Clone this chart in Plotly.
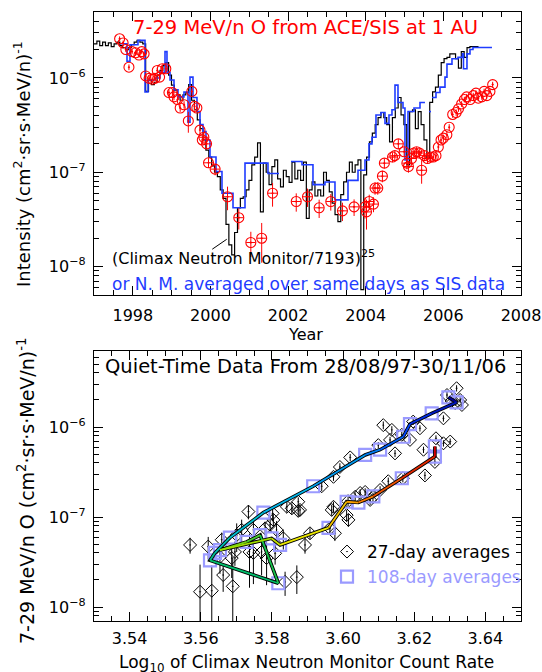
import numpy as np
import plotly.graph_objects as go
from plotly.colors import sample_colorscale

# ---------------- top panel data ----------------
# Climax NM scaled as (NM/7193)^25, 27-day (Bartels) averages starting 1997.0
nm_start_year = 1997.0
nm_step_days = 27
nm_scaled = [
    2.3e-6, 2.45e-6, 2.2e-6, 2.4e-6, 2.2e-6, 2.35e-6, 2.15e-6, 2.3e-6, 2.4e-6,
    2.2e-6, 2.1e-6, 2.0e-6, 2.1e-6,
    2.25e-6, 2.4e-6, 2.5e-6, 2.4e-6, 2.3e-6,
    7.2e-7, 9.5e-7, 8.5e-7, 9.0e-7, 1.07e-6, 1.2e-6, 1.35e-6, 1.45e-6, 1.07e-6,
    8.4e-7, 7.4e-7, 6.6e-7, 5.8e-7, 6.6e-7, 7.0e-7, 8.5e-7, 5.8e-7, 4.6e-7, 3.6e-7,
    2.9e-7, 2.2e-7, 1.72e-7, 1.45e-7, 1.17e-7, 1.0e-7, 9.0e-8, 6.5e-8, 5.3e-8,
    2.8e-8, 1.7e-8, 1.33e-8, 2.3e-8, 4.2e-8, 5.3e-8, 5.5e-8, 6.5e-8, 8.2e-8,
    1.2e-7, 1.45e-7, 2.05e-7, 3.8e-8, 1.25e-7, 1.0e-7, 7.4e-8, 1.15e-7, 1.35e-7,
    8.5e-8, 7.0e-8, 1.05e-7, 9.0e-8, 7.8e-8, 1.28e-7, 8.5e-8, 1.05e-7, 8.2e-8,
    1.28e-7, 3.25e-8, 6.5e-8, 7.9e-8, 5.6e-8, 6.5e-8, 5.6e-8, 1.0e-7, 8.2e-8,
    6.2e-8, 4.7e-8, 3.55e-8, 3.0e-8, 5.8e-8, 7.9e-8, 1.0e-7, 1.28e-7, 1.0e-7,
    1.2e-7, 1.35e-7, 5.7e-9, 9.4e-8, 1.45e-7, 2.1e-7, 2.6e-7, 3.2e-7, 3.8e-7,
    4.3e-7, 3.8e-7, 3.2e-7, 2.1e-7, 3.8e-7, 4.8e-7, 6.2e-7, 4.05e-7, 3.2e-7,
    1.2e-7, 4.4e-7, 4.6e-7, 2.9e-7, 4.4e-7, 3.2e-7, 2.2e-7, 1.4e-7, 5.5e-7,
    7.1e-7, 8.0e-7, 1.07e-6, 1.45e-6, 1.6e-6, 1.65e-6, 1.8e-6, 1.8e-6, 1.6e-6,
    1.27e-6, 1.9e-6, 1.65e-6, 2.1e-6, 2.15e-6, 2.15e-6, 2.15e-6,
]

# NM averaged over the same days as SIS data: runs of (breakpoints, values)
sis_nm_runs = [
    ([1997.670, 1997.850, 1997.927, 1998.133, 1998.314, 1998.391, 1998.571, 1998.700,
      1998.829, 1998.880, 1998.958, 1999.061, 1999.164, 1999.318, 1999.421, 1999.473,
      1999.550, 1999.653, 1999.731, 1999.808, 1999.885, 1999.988, 2000.143, 2000.297,
      2000.581, 2000.890, 2001.482, 2001.766],
     [2.3e-6, 1.5e-6, 2.25e-6, 2.5e-6, 7.1e-7, 9.5e-7, 1.0e-6, 1.15e-6, 1.9e-6,
      1.15e-6, 9.5e-7, 7.5e-7, 6.3e-7, 7.1e-7, 3.4e-7, 1.02e-6, 6.2e-7, 4.4e-7,
      3.2e-7, 2.7e-7, 2.2e-7, 1.45e-7, 1.02e-7, 6.0e-8, 4.2e-8, 1.25e-7, 9.7e-8]),
    ([2002.075, 2002.358, 2002.641, 2002.950, 2003.208, 2003.543, 2003.801, 2003.981,
      2004.084, 2004.161, 2004.264, 2004.393, 2004.496, 2004.599, 2004.676, 2004.754,
      2004.831, 2004.960, 2005.011, 2005.089, 2005.243, 2005.398, 2005.526],
     [1.3e-7, 1.2e-7, 7.4e-8, 7.9e-8, 5.1e-8, 8.2e-8, 1.05e-7, 1.35e-7, 2.0e-7,
      2.35e-7, 4.05e-7, 4.3e-7, 3.3e-7, 4.05e-7, 4.6e-7, 8.4e-7, 5.5e-7, 4.8e-7,
      1.35e-7, 4.4e-7, 4.8e-7, 5.5e-7]),
    ([2005.629, 2005.681], [4.4e-7]),
    ([2005.707, 2005.810, 2005.913, 2006.042, 2006.093, 2006.222, 2006.377, 2006.493,
      2006.518, 2006.608, 2006.686, 2006.763, 2007.252],
     [6.2e-7, 7.0e-7, 8.0e-7, 1.02e-6, 1.4e-6, 1.6e-6, 1.65e-6, 1.8e-6, 1.25e-6,
      1.8e-6, 2.0e-6, 2.1e-6]),
]

# ACE/SIS 7-29 MeV/n O
sis_year = [
    1997.66, 1997.75, 1997.82, 1997.90, 1997.98, 1998.07, 1998.16, 1998.23, 1998.29,
    1998.33, 1998.42, 1998.50, 1998.57, 1998.63, 1998.69, 1998.76, 1998.85, 1998.93,
    1999.02, 1999.06, 1999.15, 1999.22, 1999.32, 1999.43, 1999.52, 1999.59, 1999.65,
    1999.73, 1999.79, 1999.83, 1999.90, 1999.95, 2000.12, 2000.44, 2000.73, 2001.04,
    2001.32, 2001.60, 2002.21, 2002.50, 2002.80, 2003.10, 2003.40, 2003.70, 2003.98,
    2004.02, 2004.09, 2004.20, 2004.24, 2004.31, 2004.43, 2004.48, 2004.69, 2004.75,
    2004.84, 2004.99, 2005.06, 2005.10, 2005.18, 2005.24, 2005.31, 2005.38, 2005.44,
    2005.51, 2005.59, 2005.67, 2005.74, 2005.81, 2005.87, 2005.94, 2006.00, 2006.09,
    2006.15, 2006.24, 2006.33, 2006.39, 2006.47, 2006.54, 2006.60, 2006.69, 2006.77,
    2006.84, 2006.90, 2006.99, 2007.05, 2007.12, 2007.20, 2007.27,
]
sis_flux = [
    2.6e-6, 2.35e-6, 2.0e-6, 1.3e-6, 1.9e-6, 1.85e-6, 1.75e-6, 1.9e-6, 1.8e-6,
    1.05e-6, 9.9e-7, 9.7e-7, 9.9e-7, 1.2e-6, 1.02e-6, 1.25e-6, 1.25e-6, 7.0e-7,
    7.0e-7, 6.3e-7, 5.9e-7, 4.8e-7, 5.2e-7, 3.5e-7, 7.2e-7, 5.0e-7, 4.8e-7,
    2.8e-7, 2.2e-7, 2.35e-7, 2.0e-7, 1.26e-7, 1.08e-7, 5.5e-8, 3.3e-8, 1.8e-8,
    2.0e-8, 6.0e-8, 4.9e-8, 5.5e-8, 4.2e-8, 4.9e-8, 3.9e-8, 4.3e-8, 4.3e-8,
    3.8e-8, 4.9e-8, 4.6e-8, 6.8e-8, 6.8e-8, 9.1e-8, 1.25e-7, 1.45e-7, 1.5e-7,
    2.0e-7, 1.65e-7, 1.25e-7, 1.15e-7, 1.4e-7, 1.6e-7, 1.65e-7, 1.6e-7, 1.05e-7,
    1.5e-7, 1.4e-7, 1.45e-7, 1.45e-7, 1.5e-7, 1.85e-7, 2.2e-7, 2.3e-7, 2.5e-7,
    3.0e-7, 4.1e-7, 4.3e-7, 4.7e-7, 5.3e-7, 5.9e-7, 6.3e-7, 5.9e-7, 6.5e-7,
    6.9e-7, 6.1e-7, 6.3e-7, 7.2e-7, 6.5e-7, 7.2e-7, 8.5e-7,
]
sis_relerr = [
    0.06, 0.06, 0.06, 0.07, 0.06, 0.06, 0.06, 0.06, 0.06,
    0.07, 0.07, 0.07, 0.07, 0.07, 0.07, 0.07, 0.07, 0.08,
    0.08, 0.08, 0.08, 0.09, 0.09, 0.25, 0.08, 0.09, 0.09,
    0.10, 0.10, 0.10, 0.12, 0.12, 0.14, 0.28, 0.25, 0.30,
    0.45, 0.28, 0.22, 0.22, 0.22, 0.20, 0.22, 0.20, 0.25,
    0.35, 0.18, 0.18, 0.15, 0.15, 0.14, 0.12, 0.12, 0.12,
    0.12, 0.12, 0.14, 0.14, 0.12, 0.12, 0.12, 0.12, 0.28,
    0.12, 0.12, 0.10, 0.10, 0.10, 0.10, 0.09, 0.09, 0.09,
    0.08, 0.08, 0.08, 0.07, 0.07, 0.07, 0.07, 0.07, 0.07,
    0.07, 0.07, 0.07, 0.07, 0.07, 0.07, 0.07,
]

# ---------------- bottom panel data ----------------
# 27-day averages: log10 NM rate vs O intensity
d27_lognm = [
    3.6319, 3.6292, 3.6329, 3.6315, 3.6334, 3.6305, 3.6282, 3.6197, 3.6216, 3.6113,
    3.6137, 3.6188, 3.6132, 3.6146, 3.6099, 3.6165, 3.6020, 3.5991, 3.5973, 3.5940,
    3.5874, 3.5856, 3.5874, 3.5842, 3.5804, 3.5795, 3.5813, 3.5781, 3.5734, 3.5715,
    3.5701, 3.5659, 3.5570, 3.5621, 3.5654, 3.5687, 3.5696, 3.5748, 3.5771, 3.5809,
    3.5832, 3.5893, 3.5907, 3.5663, 3.5690, 3.5598, 3.5631, 3.5837, 3.5870, 3.5748,
    3.5802, 3.5879, 3.5737, 3.5785,
    3.6301, 3.6282, 3.6261, 3.6226, 3.6258, 3.6230, 3.6168, 3.6127, 3.6104, 3.6084,
    3.6076, 3.6034, 3.6014, 3.5973, 3.5968, 3.6010, 3.6015, 3.5977, 3.5963, 3.6048,
    3.6062,
]
d27_flux = [
    2.7e-6, 2.27e-6, 2.0e-6, 1.85e-6, 1.76e-6, 1.95e-6, 1.25e-6, 1.15e-6, 9.7e-7, 1.05e-6,
    9.3e-7, 7.2e-7, 7.2e-7, 5.1e-7, 6.3e-7, 8.2e-7, 4.6e-7, 3.6e-7, 2.8e-7, 2.2e-7,
    1.48e-7, 1.25e-7, 1.17e-7, 1.3e-7, 9.3e-8, 8.2e-8, 7.2e-8, 7.5e-8, 1.15e-7, 7.2e-8,
    6.3e-8, 5.6e-8, 4.9e-8, 4.7e-8, 3.6e-8, 3.5e-8, 4.1e-8, 4.0e-8, 4.1e-8, 3.95e-8,
    5.8e-8, 4.9e-8, 6.6e-8, 2.27e-8, 1.7e-8, 1.48e-8, 1.52e-8, 1.9e-8, 2.15e-8, 7.2e-8,
    1.1e-7, 1.2e-7, 4.1e-8, 3.5e-8,
    6.9e-7, 6.6e-7, 7.5e-7, 5.6e-7, 4.1e-7, 2.9e-7, 2.7e-7, 2.5e-7, 2.0e-7, 1.67e-7,
    1.55e-7, 1.68e-7, 1.5e-7, 1.3e-7, 1.2e-7, 1.05e-7, 9.3e-8, 6.6e-8, 7.5e-8, 1.85e-7,
    1.9e-7,
]
d27_relerr = [
    0.08, 0.08, 0.07, 0.07, 0.07, 0.07, 0.08, 0.08, 0.08, 0.10,
    0.10, 0.08, 0.08, 0.09, 0.08, 0.08, 0.09, 0.10, 0.10, 0.12,
    0.12, 0.14, 0.14, 0.14, 0.16, 0.16, 0.25, 0.16, 0.18, 0.30,
    0.35, 0.20, 0.20, 0.28, 0.35, 0.40, 0.30, 0.55, 0.45, 0.25,
    0.25, 0.20, 0.14, 0.35, 1.10, 1.00, 0.90, 0.30, 0.35, 0.25,
    0.18, 0.14, 0.60, 0.50,
    0.08, 0.08, 0.08, 0.08, 0.09, 0.10, 0.10, 0.10, 0.10, 0.12,
    0.12, 0.12, 0.12, 0.14, 0.14, 0.14, 0.16, 0.18, 0.16, 0.10,
    0.10,
]

# 108-day averages, in time order
d108_lognm = [
    3.6296, 3.6319, 3.6249, 3.6188, 3.6169, 3.6104, 3.6062, 3.5916, 3.5776, 3.5682,
    3.5640, 3.5626, 3.5818, 3.5767, 3.5729, 3.5654, 3.5799, 3.5823, 3.5959, 3.6010,
    3.6043, 3.6085, 3.6165, 3.6258, 3.6258,
]
d108_flux = [
    2.14e-6, 1.88e-6, 1.42e-6, 1.08e-6, 7.8e-7, 5.6e-7, 4.9e-7, 2.2e-7, 1.12e-7, 5.9e-8,
    4.0e-8, 3.3e-8, 1.84e-8, 6.3e-8, 5.3e-8, 4.3e-8, 5.8e-8, 4.9e-8, 7.6e-8, 1.48e-7,
    1.45e-7, 1.7e-7, 2.7e-7, 4.7e-7, 6.1e-7,
]

# log-axis labels
decade_vals = [1e-8, 1e-7, 1e-6]
decade_text = ["10<sup>−8</sup>", "10<sup>−7</sup>", "10<sup>−6</sup>"]

# ---------------- styles ----------------
FONT = "DejaVu Sans"
RED = "#ff0000"
BLUE = "#1f3cff"
LAV = "#9a9aff"
path_scale = [
    [0.0, "rgb(0,0,150)"], [0.12, "rgb(0,60,255)"], [0.32, "rgb(0,190,230)"],
    [0.5, "rgb(0,190,90)"], [0.64, "rgb(150,220,0)"], [0.74, "rgb(235,230,0)"],
    [0.85, "rgb(255,140,0)"], [1.0, "rgb(215,0,0)"],
]

fig = go.Figure()

# black NM line
nm_years = [nm_start_year + k * nm_step_days / 365.25 for k in range(len(nm_scaled) + 1)]
fig.add_trace(go.Scatter(
    x=nm_years, y=nm_scaled + [nm_scaled[-1]], mode="lines",
    line=dict(color="black", width=1.2, shape="hv"),
    xaxis="x", yaxis="y", showlegend=False, hoverinfo="skip"))

# blue NM averaged over SIS days
bx, by = [], []
for brk, vals in sis_nm_runs:
    bx += list(brk) + [None]
    by += list(vals) + [vals[-1], None]
fig.add_trace(go.Scatter(
    x=bx, y=by, mode="lines", connectgaps=False,
    line=dict(color=BLUE, width=1.6, shape="hv"),
    xaxis="x", yaxis="y", showlegend=False, hoverinfo="skip"))

# red SIS points
sis_err = [f * v for f, v in zip(sis_relerr, sis_flux)]
sis_xerr = [0.12 if 1999.8 < yr < 2005.6 else 0.0 for yr in sis_year]
fig.add_trace(go.Scatter(
    x=sis_year, y=sis_flux, mode="markers",
    marker=dict(symbol="circle-open-dot", size=10, color=RED, line=dict(width=1.1, color=RED)),
    error_y=dict(type="data", array=sis_err, color=RED, thickness=1, width=0),
    error_x=dict(type="data", array=sis_xerr, color=RED, thickness=1, width=0),
    xaxis="x", yaxis="y", showlegend=False, hoverinfo="skip"))

# bottom: 27-day diamonds
d27_err = [f * v for f, v in zip(d27_relerr, d27_flux)]
fig.add_trace(go.Scatter(
    x=d27_lognm, y=d27_flux, mode="markers", name="27-day averages",
    marker=dict(symbol="diamond-open-dot", size=10, color="black", line=dict(width=1, color="black")),
    error_y=dict(type="data", array=d27_err, color="black", thickness=1, width=0),
    xaxis="x2", yaxis="y2", showlegend=True, hoverinfo="skip"))

# 108-day squares
fig.add_trace(go.Scatter(
    x=d108_lognm, y=d108_flux, mode="markers",
    name='<span style="color:%s">108-day averages</span>' % LAV,
    marker=dict(symbol="square-open", size=12, color=LAV, line=dict(width=2.2, color=LAV)),
    xaxis="x2", yaxis="y2", showlegend=True, hoverinfo="skip"))

# black outline for path
fig.add_trace(go.Scatter(
    x=d108_lognm, y=d108_flux, mode="lines", line=dict(color="black", width=3.6),
    xaxis="x2", yaxis="y2", showlegend=False, hoverinfo="skip"))
nseg = len(d108_lognm) - 1
seg_colors = sample_colorscale(path_scale, [i / (nseg - 1) for i in range(nseg)])
for i in range(nseg):
    fig.add_trace(go.Scatter(
        x=d108_lognm[i:i + 2], y=d108_flux[i:i + 2], mode="lines",
        line=dict(color=seg_colors[i], width=1.8),
        xaxis="x2", yaxis="y2", showlegend=False, hoverinfo="skip"))

W, H = 542, 672
xdom = [94 / W, 521 / W]
ax_common = dict(showline=True, linecolor="black", linewidth=1.2, mirror="ticks",
                 ticks="inside", ticklen=9, tickwidth=1, tickcolor="black",
                 showgrid=False, zeroline=False, automargin=False,
                 tickfont=dict(family=FONT, size=16, color="black"))

minor_vals = [d * 10.0 ** e for e in range(-9, -5) for d in range(2, 10)]

fig.update_layout(
    template="none",
    width=W, height=H, margin=dict(l=0, r=0, t=0, b=0, autoexpand=False),
    paper_bgcolor="white", plot_bgcolor="white",
    font=dict(family=FONT, size=16, color="black"),
    xaxis=dict(domain=xdom, anchor="y", range=[1997, 2008], tick0=1998, dtick=2,
               ticklabelstandoff=6,
               minor=dict(dtick=0.5, ticks="inside", ticklen=5, tickcolor="black"), **ax_common),
    yaxis=dict(domain=[1 - 295 / H, 1 - 12 / H], anchor="x", type="log",
               range=[np.log10(5e-9), np.log10(5e-6)], tickmode="array",
               tickvals=decade_vals, ticktext=decade_text, ticklabelstandoff=4,
               minor=dict(tickmode="array", tickvals=minor_vals, ticks="inside", ticklen=5,
                          tickcolor="black"), **ax_common),
    xaxis2=dict(domain=xdom, anchor="y2", range=[3.53, 3.65], tick0=3.54, dtick=0.02,
                tickformat=".2f", ticklabelstandoff=3,
                minor=dict(dtick=0.005, ticks="inside", ticklen=5, tickcolor="black"), **ax_common),
    yaxis2=dict(domain=[1 - 621 / H, 1 - 351 / H], anchor="x2", type="log",
                range=[np.log10(7e-9), np.log10(7e-6)], tickmode="array",
                tickvals=decade_vals, ticktext=decade_text, ticklabelstandoff=4,
                minor=dict(tickmode="array", tickvals=minor_vals, ticks="inside", ticklen=5,
                           tickcolor="black"), **ax_common),
    legend=dict(x=327 / W, y=1 - 534 / H, xanchor="left", yanchor="top",
                bgcolor="rgba(0,0,0,0)", font=dict(family=FONT, size=17, color="black"),
                itemsizing="trace", tracegroupgap=0),
)

ann = [
    dict(text="7-29 MeV/n O from ACE/SIS at 1 AU", x=305 / W, y=1 - 28 / H,
         font=dict(color=RED, size=19.5)),
    dict(text="(Climax Neutron Monitor/7193)<sup>25</sup>", x=110 / W, y=1 - 257 / H,
         xanchor="left", font=dict(color="black", size=16)),
    dict(text="or N. M. averaged over same days as SIS data", x=110 / W, y=1 - 284 / H,
         xanchor="left", font=dict(color=BLUE, size=17)),
    dict(text="Year", x=305 / W, y=1 - 334 / H, font=dict(size=16)),
    dict(text="Quiet-Time Data From 28/08/97-30/11/06", x=305 / W, y=1 - 367 / H,
         font=dict(size=19.5)),
    dict(text="Log<sub>10</sub> of Climax Neutron Monitor Count Rate", x=306 / W, y=1 - 650 / H,
         yanchor="top", font=dict(size=17)),
    dict(text="Intensity (cm<sup>2</sup>·sr·s·MeV/n)<sup>-1</sup>", x=22 / W, y=1 - 164 / H,
         textangle=-90, font=dict(size=18)),
    dict(text="7-29 MeV/n O (cm<sup>2</sup>·sr·s·MeV/n)<sup>-1</sup>", x=26 / W, y=1 - 491 / H,
         textangle=-90, font=dict(size=19)),
]
for a in ann:
    a.setdefault("xanchor", "center")
    a.setdefault("yanchor", "middle")
    a.update(xref="paper", yref="paper", showarrow=False)
    a["font"].setdefault("family", FONT)
    a["font"].setdefault("color", "black")
    fig.add_annotation(**a)

# pointer line from label to NM curve
fig.add_annotation(x=2000.42, y=np.log10(1.95e-8), xref="x", yref="y", text="",
                   showarrow=True, arrowhead=0, arrowwidth=1, arrowcolor="black",
                   ax=-16, ay=11, standoff=0)

fig.write_html("out.html", config={"displayModeBar": False, "responsive": False},
               post_script="document.body.style.margin='0px';document.body.style.overflow='hidden';")
